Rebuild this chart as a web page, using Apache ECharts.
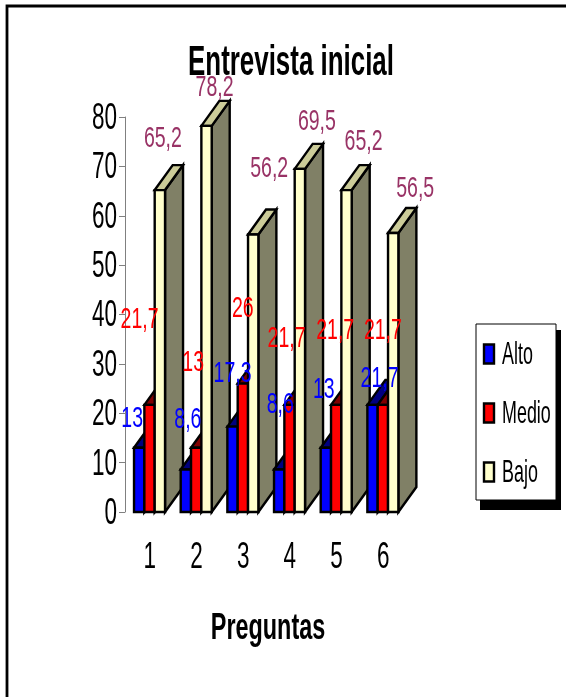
<!DOCTYPE html>
<html><head><meta charset="utf-8">
<style>html,body{margin:0;padding:0;background:#fff}#c{width:566px;height:697px}</style>
<script src="https://cdn.jsdelivr.net/npm/echarts@6/dist/echarts.min.js"></script>
</head><body><div id="c"></div>
<script>
const categories = ['1','2','3','4','5','6'];
const alto  = [13, 8.6, 17.3, 8.6, 13, 21.7];
const medio = [21.7, 13, 26, 21.7, 21.7, 21.7];
const bajo  = [65.2, 78.2, 56.2, 69.5, 65.2, 56.5];
const seriesNames = ['Alto','Medio','Bajo'];
const yTickValues = [0,10,20,30,40,50,60,70,80];
const titleText = 'Entrevista inicial';
const xAxisTitle = 'Preguntas';
// label nudges (px), measured from the top-centre of each bar's front face
const altoLabelShift  = [[-7,-29],[2,-50],[0,-53],[1,-65],[-2,-58],[7,-26]];
const medioLabelShift = [[-10,-85],[-3,-85],[0,-75],[-3,-66],[-1,-74],[0,-74]];
const bajoLabelShift  = [[3,-51],[8,-38],[16,-66],[17,-47],[17,-48],[22,-44]];

const FONT = '"Liberation Sans",Arial,sans-serif';
const styles = [
  {front:'#0000ff', top:'#00007f', side:'#00007f', text:'#0000ff', shift:altoLabelShift},
  {front:'#ff0000', top:'#7f0000', side:'#7f0000', text:'#ff0000', shift:medioLabelShift},
  {front:'#ffffcc', top:'#cccc99', side:'#808066', text:'#993366', shift:bajoLabelShift}
];
const DX = 18, DY = 25, LINE = 2.4;

function renderBar(params, api){
  const si = params.seriesIndex, st = styles[si];
  const ci = api.value(0), v = api.value(1);
  const band = api.size([1,0])[0];
  const w = band*0.2215;
  const base = api.coord([ci,0]);
  const top = api.coord([ci,v]);
  const x0 = base[0] + 1.2 - w*1.5 + si*w, x1 = x0 + w;
  const yb = base[1], yt = top[1];
  const z = ci*10 + si;
  const line = {stroke:'#000', lineWidth:LINE, lineJoin:'miter'};
  const shift = st.shift[ci];
  return {type:'group', children:[
    {type:'polygon', z2:z, shape:{points:[[x1,yb],[x1+DX,yb-DY],[x1+DX,yt-DY],[x1,yt]]}, style:{fill:st.side, ...line}},
    {type:'polygon', z2:z, shape:{points:[[x0,yt],[x0+DX,yt-DY],[x1+DX,yt-DY],[x1,yt]]}, style:{fill:st.top, ...line}},
    {type:'polygon', z2:z+0.5, shape:{points:[[x0,yb],[x1,yb],[x1,yt],[x0,yt]]}, style:{fill:st.front, ...line}},
    {type:'text', z2:1000, x:(x0+x1)/2+shift[0], y:yt+shift[1], scaleX:0.65,
      style:{text:String(v).replace('.',','), fill:st.text, font:'30px '+FONT, align:'center', verticalAlign:'middle'}}
  ]};
}
// Tick labels are condensed like the original, so they are drawn through the axes' own scales.
function renderYTick(params, api){
  const v = api.value(1), p = api.coord([0,v]), band = api.size([1,0])[0];
  return {type:'text', x:p[0]-band/2-8, y:p[1]+2, scaleX:0.625,
    style:{text:String(v), fill:'#000', font:'36px '+FONT, align:'right', verticalAlign:'middle'}};
}
function renderXTick(params, api){
  const i = api.value(0), p = api.coord([i,0]);
  return {type:'text', x:p[0]+1.5, y:p[1]+46, scaleX:0.625,
    style:{text:categories[i], fill:'#000', font:'36px '+FONT, align:'center', verticalAlign:'middle'}};
}
function toData(arr){return arr.map((v,i)=>[i,v]);}
const values=[alto,medio,bajo];

const legendGraphic = [
  {type:'rect', shape:{x:480,y:330,width:81,height:180}, style:{fill:'#000'}, z:1},
  {type:'rect', shape:{x:476,y:324,width:80,height:176}, style:{fill:'#fff',stroke:'#000',lineWidth:1}, z:2}
];
seriesNames.forEach((n,i)=>{
  const yc = 354 + i*59;
  legendGraphic.push(
    {type:'rect', shape:{x:484,y:yc-9.5,width:10,height:19}, style:{fill:styles[i].front,stroke:'#000',lineWidth:2.4}, z:3},
    {type:'text', x:502, y:yc+1, scaleX:0.56, z:3, style:{text:n, fill:'#000', font:'32px '+FONT, align:'left', verticalAlign:'middle'}}
  );
});

const chart = echarts.init(document.getElementById('c'),null,{renderer:'canvas'});
chart.setOption({
  animation:false,
  backgroundColor:'#fff',
  grid:{left:125, right:161, top:117, bottom:185},
  xAxis:{type:'category', data:categories,
    axisLine:{show:false}, axisTick:{show:false}, axisLabel:{show:false}},
  yAxis:{type:'value', min:0, max:80, interval:10, splitLine:{show:false},
    axisLine:{show:true,lineStyle:{color:'#808080',width:1}},
    axisTick:{show:true,length:6,lineStyle:{color:'#808080',width:1}},
    axisLabel:{show:false}},
  graphic:[
    {type:'polyline', shape:{points:[[7,697],[7,6],[566,6]]}, style:{fill:'none',stroke:'#000',lineWidth:2.8}, z:0},
    {type:'text', x:291, y:63, scaleX:0.617, z:5, style:{text:titleText, fill:'#000', font:'bold 42px '+FONT, align:'center', verticalAlign:'middle'}},
    {type:'text', x:268, y:629, scaleX:0.65, z:5, style:{text:xAxisTitle, fill:'#000', font:'bold 36px '+FONT, align:'center', verticalAlign:'middle'}},
    ...legendGraphic
  ],
  series:[
    ...seriesNames.map((n,i)=>({
      name:n, type:'custom', clip:false, renderItem:renderBar, data:toData(values[i]),
      encode:{x:0,y:1}, itemStyle:{color:styles[i].front}
    })),
    {name:'yTicks', type:'custom', clip:false, silent:true, renderItem:renderYTick, encode:{x:0,y:1}, data:yTickValues.map(v=>[0,v])},
    {name:'xTicks', type:'custom', clip:false, silent:true, renderItem:renderXTick, encode:{x:0,y:1}, data:categories.map((c,i)=>[i,0])}
  ]
});
</script></body></html>
